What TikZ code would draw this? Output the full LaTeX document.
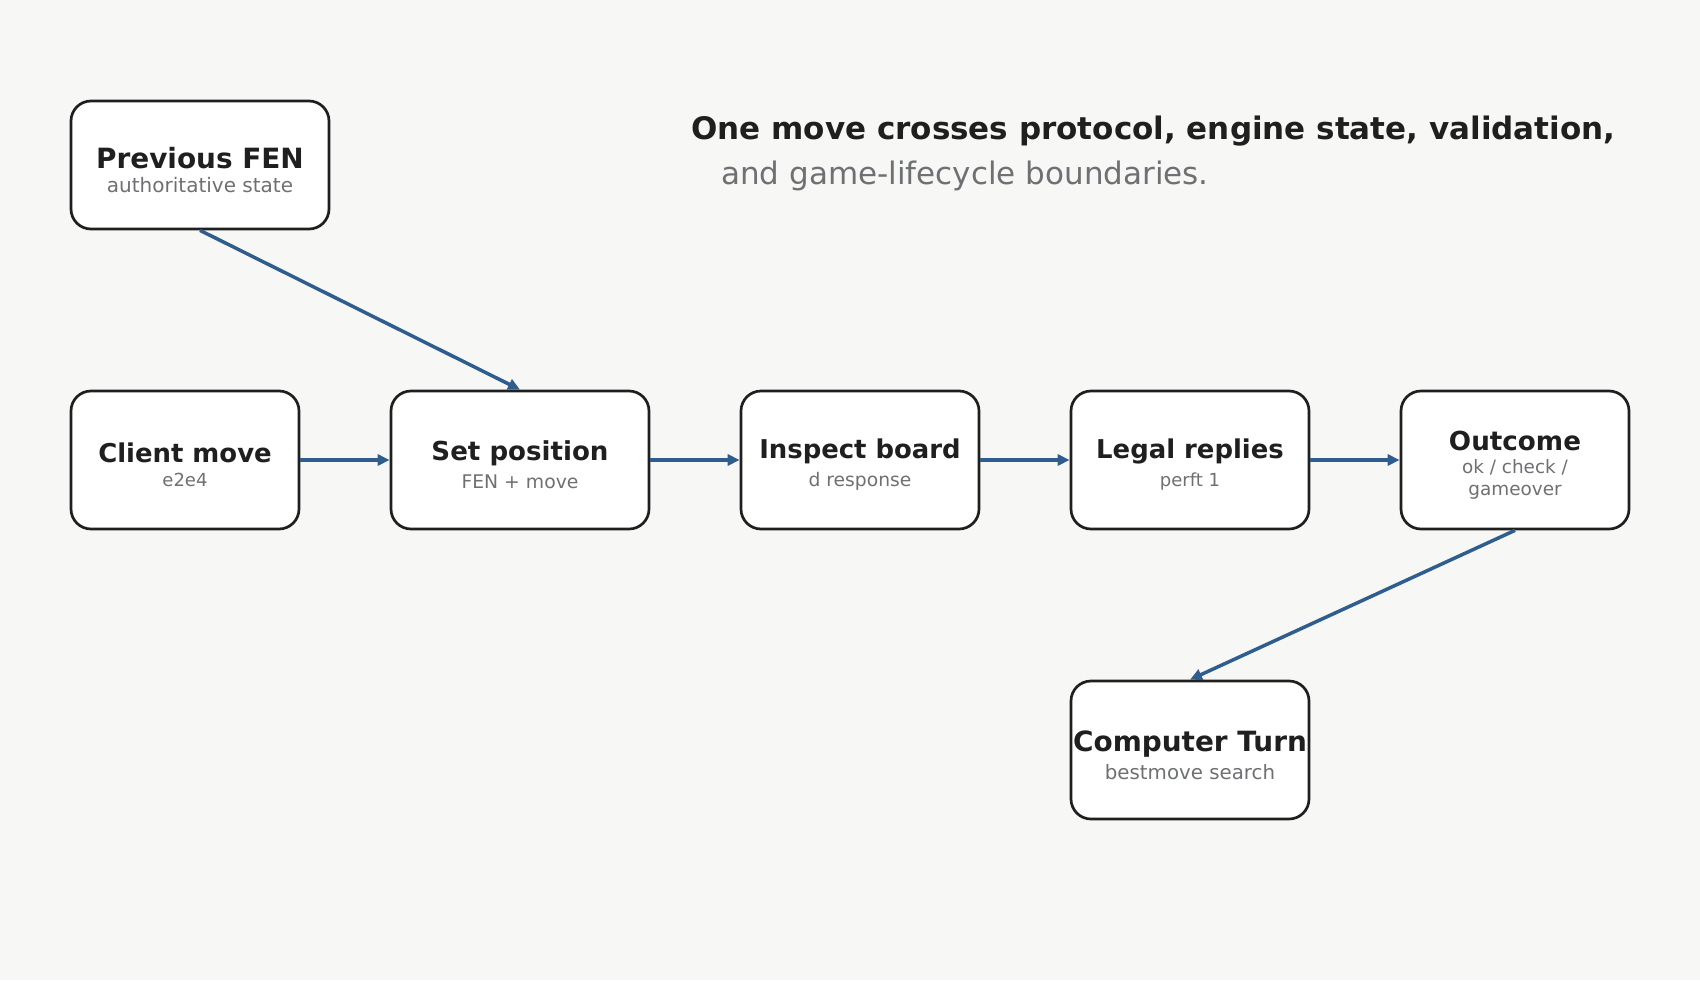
\documentclass[tikz,border=0pt]{standalone}
\usepackage{fontspec}
\setmainfont{DejaVu Sans}
\usetikzlibrary{arrows.meta}
\definecolor{bgc}{HTML}{F7F7F5}
\definecolor{ink}{HTML}{1F1F1F}
\definecolor{subgray}{HTML}{6E7073}
\definecolor{flow}{HTML}{2F5E8E}
% title (with a strut that lowers the text block a little) and subtitle lines
\newcommand\ttl[2]{{\fontsize{#1}{#1}\selectfont\bfseries\color{ink}\rule{0pt}{\dimexpr0.76em+10pt\relax}#2}}
\newcommand\sub[2]{{\fontsize{#1}{#1}\selectfont\color{subgray}#2}}
\tikzset{
  stepbox/.style={draw=ink, line width=2.7pt, fill=white, rounded corners=20pt,
    align=center, inner sep=0pt, font=\fontsize{18}{24}\selectfont},
  flowarrow/.style={draw=flow, line width=3.5pt,
    -{Triangle[length=12pt,width=11pt]}},
}
\begin{document}
\begin{tikzpicture}[x=1pt,y=-1pt]
\fill[bgc] (0,0) rectangle (1700,980);
\useasboundingbox (0,0) rectangle (1700,980);

\node[anchor=base west, font=\fontsize{31}{31}\selectfont\bfseries, text=ink, inner sep=0pt]
  (title1) at (691,139.5) {One move crosses protocol, engine state, validation,};
\node[anchor=base west, font=\fontsize{31}{31}\selectfont, text=subgray, inner sep=0pt]
  (title2) at (721,184.5) {and game-lifecycle boundaries.};

\node[stepbox, minimum width=258pt, minimum height=128pt] (pfen) at (200,165)
  {\ttl{27.9}{Previous FEN}\\\sub{20}{authoritative state}};
\node[stepbox, minimum width=228pt, minimum height=138pt] (client) at (185,460)
  {\ttl{25.9}{Client move}\\\sub{18}{e2e4}};
\node[stepbox, minimum width=258pt, minimum height=138pt] (setpos) at (520,460)
  {\ttl{26.1}{Set position}\\[4pt]\sub{18.8}{FEN + move}};
\node[stepbox, minimum width=238pt, minimum height=138pt] (inspect) at (860,460)
  {\ttl{25.9}{Inspect board}\\[4pt]\sub{18.7}{d response}};
\node[stepbox, minimum width=238pt, minimum height=138pt] (legal) at (1190,460)
  {\ttl{25.9}{Legal replies}\\[4pt]\sub{18}{perft 1}};
\node[stepbox, minimum width=228pt, minimum height=138pt] (outcome) at (1515,460)
  {\ttl{26.2}{Outcome}\\[-1pt]\sub{18.4}{ok / check /}\\[-2pt]\sub{18.4}{gameover}};
\node[stepbox, minimum width=238pt, minimum height=138pt] (comp) at (1190,750)
  {\ttl{27.9}{Computer Turn}\\[4pt]\sub{19.8}{bestmove search}};

\draw[flowarrow] (pfen.south) -- (setpos.north);
\draw[flowarrow] (client.east) -- (setpos.west);
\draw[flowarrow] (setpos.east) -- (inspect.west);
\draw[flowarrow] (inspect.east) -- (legal.west);
\draw[flowarrow] (legal.east) -- (outcome.west);
\draw[flowarrow] (outcome.south) -- (comp.north);
\end{tikzpicture}
\end{document}
